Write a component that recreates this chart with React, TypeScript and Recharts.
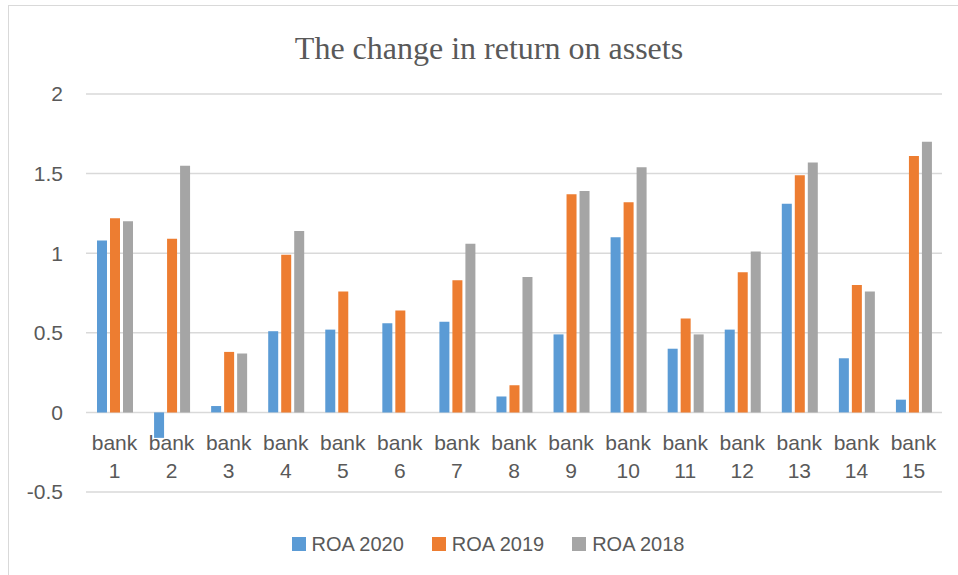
import * as React from "react"
import { Bar, BarChart, CartesianGrid, Legend, XAxis, YAxis } from "recharts"

const banks = [
    "bank 1", "bank 2", "bank 3", "bank 4", "bank 5", "bank 6", "bank 7", "bank 8",
    "bank 9", "bank 10", "bank 11", "bank 12", "bank 13", "bank 14", "bank 15",
]
const roa2020 = [1.08, -0.16, 0.04, 0.51, 0.52, 0.56, 0.57, 0.1, 0.49, 1.1, 0.4, 0.52, 1.31, 0.34, 0.08]
const roa2019 = [1.22, 1.09, 0.38, 0.99, 0.76, 0.64, 0.83, 0.17, 1.37, 1.32, 0.59, 0.88, 1.49, 0.8, 1.61]
const roa2018 = [1.2, 1.55, 0.37, 1.14, 0, 0, 1.06, 0.85, 1.39, 1.54, 0.49, 1.01, 1.57, 0.76, 1.7]
const yTicks = [-0.5, 0, 0.5, 1, 1.5, 2]

const series = [
    { key: "roa2020", name: "ROA 2020", color: "#5B9BD5" },
    { key: "roa2019", name: "ROA 2019", color: "#ED7D31" },
    { key: "roa2018", name: "ROA 2018", color: "#A5A5A5" },
]

const data = banks.map((bank, i) => ({
    bank,
    roa2020: roa2020[i],
    roa2019: roa2019[i],
    roa2018: roa2018[i],
}))

const labelFont = "'Liberation Sans', Arial, sans-serif"
const textColor = "#595959"

function BankTick({ x, y, payload }: any) {
    const [word, num] = String(payload.value).split(" ")
    return (
        <g>
            <text x={x} y={y - 42} textAnchor="middle" fill={textColor} fontSize={21} fontFamily={labelFont}>{word}</text>
            <text x={x} y={y - 14} textAnchor="middle" fill={textColor} fontSize={21} fontFamily={labelFont}>{num}</text>
        </g>
    )
}

function LegendBox() {
    return (
        <div style={{ display: "flex", justifyContent: "center", alignItems: "center", height: 30, paddingLeft: 62 }}>
            {series.map((s) => (
                <div key={s.key} style={{ display: "flex", alignItems: "center", marginRight: 28 }}>
                    <span style={{ width: 14, height: 14, background: s.color, display: "inline-block", marginRight: 6 }} />
                    <span style={{ fontFamily: labelFont, fontSize: 20, color: textColor }}>{s.name}</span>
                </div>
            ))}
        </div>
    )
}

export default function App() {
    return (
        <div style={{ position: "absolute", left: 0, top: 0, width: 958, height: 575, overflow: "hidden", background: "#fff" }}>
            <div style={{ position: "absolute", left: 8, top: 5, width: 1000, height: 700, border: "1.5px solid #d9d9d9" }} />
            <div style={{
                position: "absolute", left: 239, top: 32, width: 500, textAlign: "center",
                fontFamily: "'Liberation Serif', 'Times New Roman', serif", fontSize: 32, lineHeight: "32px", color: textColor,
            }}>
                The change in return on assets
            </div>
            <div style={{ position: "absolute", left: 0, top: 0 }}>
                <BarChart width={958} height={575} data={data} margin={{ top: 94, right: 16, left: 0, bottom: 16 }}
                    barSize={10} barGap={3}>
                    <CartesianGrid vertical={false} stroke="#d9d9d9" strokeWidth={1.5} />
                    <XAxis dataKey="bank" axisLine={false} tickLine={false} tickSize={0} tickMargin={0}
                        height={37} interval={0} tick={<BankTick />} />
                    <YAxis domain={[-0.5, 2]} ticks={yTicks} axisLine={false} tickLine={false} tickSize={0}
                        tickMargin={23} width={86} tick={{ fill: textColor, fontSize: 21, fontFamily: labelFont }} />
                    <Legend verticalAlign="bottom" content={() => <LegendBox />} />
                    {series.map((s) => (
                        <Bar key={s.key} dataKey={s.key} name={s.name} fill={s.color} isAnimationActive={false} />
                    ))}
                </BarChart>
            </div>
        </div>
    )
}
